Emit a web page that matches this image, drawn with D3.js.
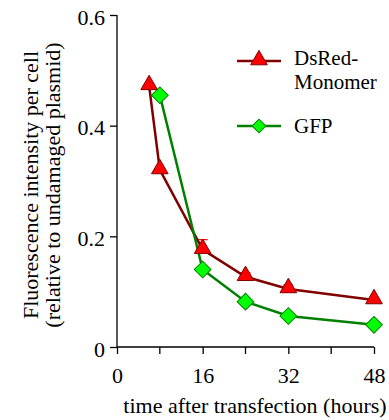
<!DOCTYPE html>
<html>
<head>
<meta charset="utf-8">
<script src="https://cdn.jsdelivr.net/npm/d3@7"></script>
<style>
  html, body { margin: 0; padding: 0; background: #fff; }
</style>
</head>
<body>
<div id="chart"></div>
<script>
// data
const dsredHours = [6, 8, 16, 24, 32, 48];
const dsredValues = [0.472, 0.320, 0.176, 0.127, 0.105, 0.085];
const dsredErrTop = [0.472, 0.320, 0.194, 0.134, 0.112, 0.088];
const gfpHours = [8, 16, 24, 32, 48];
const gfpValues = [0.455, 0.140, 0.082, 0.056, 0.040];
const xTicks = [0, 16, 32, 48];
const xMinorTicks = [8, 24, 40];
const yTicks = [0, 0.2, 0.4, 0.6];

const W = 389, H = 420;
const FONT = '"Liberation Serif"';
const x = d3.scaleLinear().domain([0, 48]).range([117, 374]);
const y = d3.scaleLinear().domain([0, 0.6]).range([347, 15]);

const svg = d3.select('#chart').append('svg')
  .attr('width', W).attr('height', H);

// axes
const yAxis = d3.axisLeft(y).tickValues(yTicks).tickSize(7).tickPadding(5)
  .tickFormat(d => d === 0 ? '0' : d3.format('.1f')(d));
const gy = svg.append('g').attr('transform', `translate(${x(0)},0)`).call(yAxis);
gy.selectAll('.tick text').attr('dy', '0.42em');

const xAxis = d3.axisBottom(x).tickValues(xTicks).tickSize(7).tickPadding(13)
  .tickFormat(d3.format('d'));
const gx = svg.append('g').attr('transform', `translate(0,${y(0)})`).call(xAxis);
gx.append('g').selectAll('line').data(xMinorTicks).join('line')
  .attr('x1', d => x(d)).attr('x2', d => x(d))
  .attr('y1', 0).attr('y2', 7).attr('stroke', '#000');

[gx, gy].forEach(g => {
  g.select('.domain').attr('stroke', '#000').attr('stroke-width', 1.3);
  g.selectAll('line').attr('stroke', '#000').attr('stroke-width', 1.3);
  g.selectAll('text').attr('fill', '#000')
    .style('font-family', FONT).style('font-size', '22px');
});
gx.select('.domain').attr('d', `M${x(0)},0H${x(48)}`);
gy.select('.domain').attr('d', `M0,${y(0)}V${y(0.6)}`);

// axis titles
svg.append('text')
  .attr('x', 255).attr('y', 413)
  .attr('text-anchor', 'middle')
  .style('font-family', FONT).style('font-size', '22px')
  .text('time after transfection (hours)');

const yt = svg.append('text')
  .attr('transform', 'translate(0,185) rotate(-90)')
  .attr('text-anchor', 'middle')
  .style('font-family', FONT).style('font-size', '22px');
yt.append('tspan').attr('x', 0).attr('y', 38).text('Fluorescence intensity per cell');
yt.append('tspan').attr('x', 0).attr('y', 60).text('(relative to undamaged plasmid)');

// series
const dsred = dsredHours.map((h, i) => ({ h, v: dsredValues[i], e: dsredErrTop[i] }));
const gfp = gfpHours.map((h, i) => ({ h, v: gfpValues[i] }));

const line = d3.line().x(d => x(d.h)).y(d => y(d.v));

// error bars (upper only visible)
svg.append('g').selectAll('g').data(dsred.filter(d => d.e > d.v)).join('g')
  .each(function (d) {
    const g = d3.select(this);
    g.append('line').attr('x1', x(d.h)).attr('x2', x(d.h))
      .attr('y1', y(d.v)).attr('y2', y(d.e)).attr('stroke', '#ff0000').attr('stroke-width', 1.2);
    g.append('line').attr('x1', x(d.h) - 5).attr('x2', x(d.h) + 5)
      .attr('y1', y(d.e)).attr('y2', y(d.e)).attr('stroke', '#ff0000').attr('stroke-width', 1.2);
  });

svg.append('path').datum(dsred).attr('d', line)
  .attr('fill', 'none').attr('stroke', '#800000').attr('stroke-width', 2.5);
svg.append('path').datum(gfp).attr('d', line)
  .attr('fill', 'none').attr('stroke', '#008000').attr('stroke-width', 2.5);

const tri = d3.symbol().type(d3.symbolTriangle).size(120);
const dia = d3.symbol().type(d3.symbolSquare).size(140);

svg.append('g').selectAll('path').data(gfp).join('path')
  .attr('d', dia)
  .attr('transform', d => `translate(${x(d.h)},${y(d.v)}) rotate(45)`)
  .attr('fill', '#00ff00').attr('stroke', '#008000').attr('stroke-width', 1);

svg.append('g').selectAll('path').data(dsred).join('path')
  .attr('d', tri)
  .attr('transform', d => `translate(${x(d.h)},${y(d.v) - 1})`)
  .attr('fill', '#ff0000').attr('stroke', '#800000').attr('stroke-width', 1);

// legend
const leg = svg.append('g');
leg.append('line').attr('x1', 237).attr('x2', 281).attr('y1', 61).attr('y2', 61)
  .attr('stroke', '#800000').attr('stroke-width', 2.5);
leg.append('path').attr('d', tri).attr('transform', 'translate(259,60)')
  .attr('fill', '#ff0000').attr('stroke', '#800000');
leg.append('line').attr('x1', 237).attr('x2', 281).attr('y1', 126).attr('y2', 126)
  .attr('stroke', '#008000').attr('stroke-width', 2.5);
leg.append('path').attr('d', d3.symbol().type(d3.symbolSquare).size(95))
  .attr('transform', 'translate(259,126) rotate(45)')
  .attr('fill', '#00ff00').attr('stroke', '#008000');

const legLabels = [['DsRed-', 65], ['Monomer', 89], ['GFP', 133]];
leg.selectAll('text').data(legLabels).join('text')
  .attr('x', 294).attr('y', d => d[1])
  .style('font-family', FONT).style('font-size', '21px')
  .text(d => d[0]);
</script>
</body>
</html>
